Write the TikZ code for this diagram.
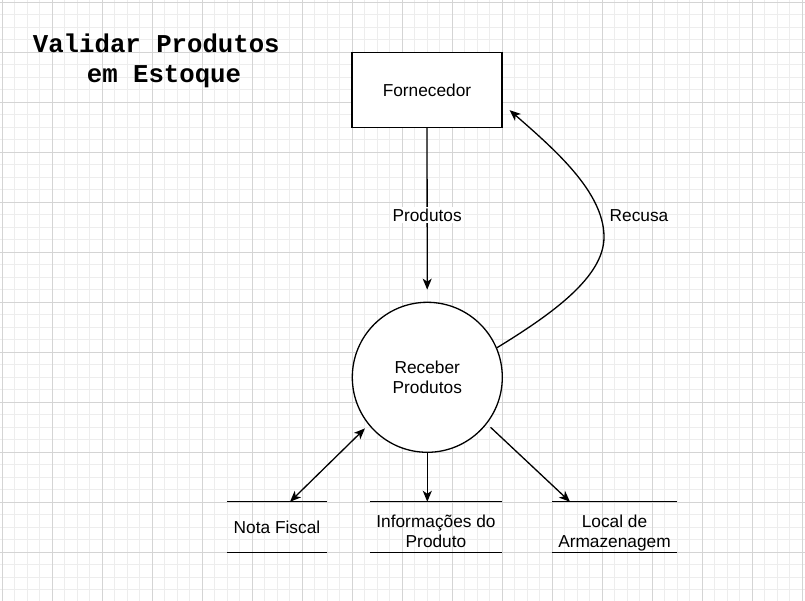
\documentclass[tikz,border=0pt]{standalone}
\usepackage{fontspec}
\setmainfont{Liberation Sans}
\newfontfamily\titlefont{Liberation Mono}
\usetikzlibrary{arrows.meta,calc}
\newcommand{\storetext}[1]{\raisebox{-6pt}[\height][\depth]{\begin{tabular}{@{}c@{}}#1\end{tabular}}}
\begin{document}
\begin{tikzpicture}[x=1pt,y=-1pt,
  every node/.style={font=\fontsize{17.3}{20}\selectfont},
  ln/.style={line width=1.3pt},
  arr/.style={ln,-{Stealth[length=11pt,width=9pt,inset=3pt]}},
  dblarr/.style={ln,{Stealth[length=11pt,width=9pt,inset=3pt]}-{Stealth[length=11pt,width=9pt,inset=3pt]}},
  entity/.style={draw,ln,minimum width=150pt,minimum height=75pt,inner sep=0pt,fill=white},
  process/.style={draw,ln,circle,minimum size=150pt,inner sep=0pt,fill=white,align=center},
  store/.style={minimum height=50pt,inner sep=0pt},
  lbl/.style={fill=white,inner sep=1.5pt}
]
\useasboundingbox (0,0) rectangle (805,601);
\fill[white] (0,0) rectangle (805,601);
% grid
\foreach \k in {0,...,64}{\draw[black!7,line width=0.8pt] ({2+12.5*\k},0) -- ({2+12.5*\k},601);}
\foreach \k in {0,...,47}{\draw[black!7,line width=0.8pt] (0,{2+12.5*\k}) -- (805,{2+12.5*\k});}
\foreach \k in {0,...,16}{\draw[black!17,line width=0.8pt] ({2+50*\k},0) -- ({2+50*\k},601);}
\foreach \k in {0,...,12}{\draw[black!17,line width=0.8pt] (0,{2+50*\k}) -- (805,{2+50*\k});}

% title
\node[font=\titlefont\bfseries\fontsize{25.7}{30}\selectfont,align=center,inner sep=0pt] (title) at (164,60.5) {Validar Produtos\hphantom{a}\\em Estoque};

% nodes
\node[entity] (forn) at (427,90) {Fornecedor};
\node[process] (proc) at (427.3,377.3) {Receber\\Produtos};
\node[store,minimum width=100pt] (nf) at (277,527) {Nota Fiscal};
\node[store,minimum width=132pt] (inf) at (436,527) {\storetext{Informações do\\Produto}};
\node[store,minimum width=124pt] (loc) at (614.5,527) {\storetext{Local de\\Armazenagem}};
\foreach \s in {nf,inf,loc}{
  \draw[ln] (\s.north west) -- (\s.north east);
  \draw[ln] (\s.south west) -- (\s.south east);
}

% connectors
\draw[arr,shorten >=12pt] (forn) -- node[lbl] (lprod) {Produtos} (proc);

\coordinate (rtip) at ($(forn.south east)+(7,-18)$);
\coordinate (rpeak) at (604,237);
\draw[arr] (proc.23) .. controls (552,314) and (604,277) .. (rpeak)
  .. controls (604,192) and (554,149) .. (rtip);
\node (lrec) at (639,216) {Recusa};

\coordinate (nfend) at ($(nf.north)+(13,0)$);
\draw[dblarr,shorten <=5pt] (proc.219) -- (nfend);
\draw[arr] (proc.south) -- (proc.south |- inf.north);
\coordinate (locend) at ($(loc.north)+(-44.5,0)$);
\draw[arr,shorten <=5pt] (proc.322) -- (locend);
\end{tikzpicture}
\end{document}
